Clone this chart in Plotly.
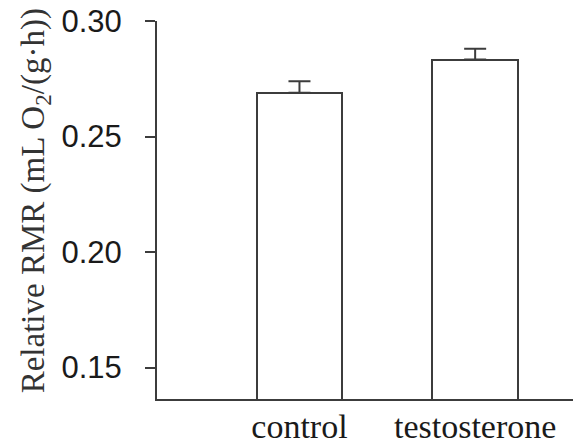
import plotly.graph_objects as go

categories = ["control", "testosterone"]
rmr_mean = [0.269, 0.2833]
rmr_se = [0.0049, 0.0047]
y_ticks = [0.15, 0.20, 0.25, 0.30]
y_tick_labels = ["0.15", "0.20", "0.25", "0.30"]

line_col = "#3c3c3c"
text_col = "#1a1a1a"

fig = go.Figure()
fig.add_trace(go.Bar(
    x=[0, 1],
    y=rmr_mean,
    width=0.488,
    marker=dict(color="white", line=dict(color=line_col, width=2)),
    error_y=dict(type="data", symmetric=False, array=rmr_se,
                 arrayminus=[0, 0], color=line_col, thickness=2, width=11),
    showlegend=False,
))

fig.update_layout(
    width=574, height=442,
    margin=dict(l=157, r=1, t=21, b=42.5, autoexpand=False),
    paper_bgcolor="white", plot_bgcolor="white",
    bargap=0,
    xaxis=dict(
        range=[-0.811, 1.557],
        tickmode="array", tickvals=[0, 1], ticktext=categories,
        showgrid=False, zeroline=False,
        showline=True, linecolor=line_col, linewidth=2,
        ticks="", ticklabelstandoff=-4,
        tickfont=dict(family="Liberation Serif", size=34, color=text_col),
        automargin=False,
    ),
    yaxis=dict(
        range=[0.1364, 0.30],
        tickmode="array", tickvals=y_ticks, ticktext=y_tick_labels,
        showgrid=False, zeroline=False,
        showline=True, linecolor=line_col, linewidth=2,
        ticks="outside", ticklen=10, tickwidth=2, tickcolor=line_col,
        ticklabelstandoff=17,
        tickfont=dict(family="Liberation Sans", size=31, color=text_col),
        automargin=False,
    ),
    annotations=[dict(
        text="Relative RMR (mL O<sub>2</sub>/(g·h))",
        xref="paper", yref="paper", x=0, y=0.523,
        xanchor="center", yanchor="middle", xshift=-122,
        textangle=-90, showarrow=False,
        font=dict(family="Liberation Serif", size=33, color="#333333"),
    )],
)

fig.write_html("out.html", config={"displayModeBar": False},
               post_script="document.body.style.margin='0';")
